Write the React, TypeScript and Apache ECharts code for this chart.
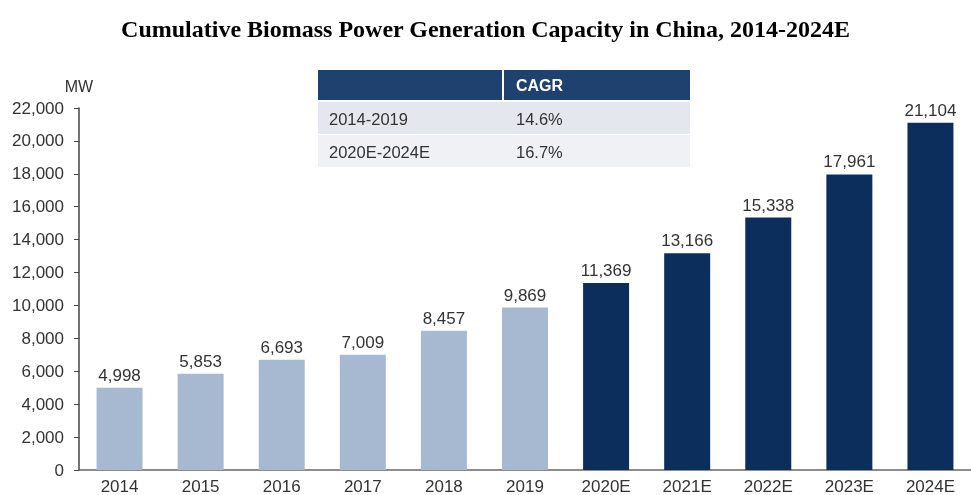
import React, { useEffect, useRef } from "react";
import * as echarts from "echarts";

const categories = ["2014", "2015", "2016", "2017", "2018", "2019", "2020E", "2021E", "2022E", "2023E", "2024E"];
const capacity = [4998, 5853, 6693, 7009, 8457, 9869, 11369, 13166, 15338, 17961, 21104];
const isEstimate = [false, false, false, false, false, false, true, true, true, true, true];
const tableHeader = ["", "CAGR"];
const tablePeriods = ["2014-2019", "2020E-2024E"];
const tableCagr = ["14.6%", "16.7%"];

const LIGHT = "#a7b9d1";
const DARK = "#0c2e5c";
const HEADER = "#1f4170";

export default function App() {
  const ref = useRef<HTMLDivElement>(null);
  useEffect(() => {
    if (!ref.current) return;
    const chart = echarts.init(ref.current, null, { renderer: "svg" });
    const font = "Arial, 'Liberation Sans', sans-serif";
    const tx = 318, tw = 372, col2 = 503;
    const graphic: any[] = [
      { type: "rect", shape: { x: tx, y: 70, width: tw, height: 30 }, style: { fill: HEADER } },
      { type: "line", shape: { x1: col2, y1: 70, x2: col2, y2: 100 }, style: { stroke: "#ffffff", lineWidth: 2 } },
      { type: "text", x: col2 + 13, y: 85, style: { text: tableHeader[1], fill: "#ffffff", font: `bold 16px ${font}`, verticalAlign: "middle" } },
    ];
    tablePeriods.forEach((p, i) => {
      const y = 102 + i * 33;
      graphic.push({ type: "rect", shape: { x: tx, y, width: tw, height: 32 }, style: { fill: i === 0 ? "#e4e8ee" : "#eff1f5" } });
      graphic.push({ type: "text", x: tx + 11, y: y + 17, style: { text: p, fill: "#333333", font: `16.5px ${font}`, verticalAlign: "middle" } });
      graphic.push({ type: "text", x: col2 + 13, y: y + 17, style: { text: tableCagr[i], fill: "#333333", font: `16.5px ${font}`, verticalAlign: "middle" } });
    });
    chart.setOption({
      animation: false,
      title: {
        text: "Cumulative Biomass Power Generation Capacity in China, 2014-2024E",
        left: "center",
        top: 12,
        textStyle: { fontFamily: "'Liberation Serif', 'Times New Roman', serif", fontWeight: "bold", fontSize: 24, color: "#000" },
      },
      graphic,
      grid: { left: 79, top: 108, width: 903, height: 363 },
      xAxis: {
        type: "category",
        data: categories,
        axisLine: { lineStyle: { color: "#666", width: 1.5 } },
        axisTick: { show: false },
        axisLabel: { color: "#333", fontSize: 17, fontFamily: font, margin: 8 },
      },
      yAxis: {
        type: "value",
        min: 0,
        max: 22000,
        interval: 2000,
        name: "MW",
        nameLocation: "end",
        nameGap: 14,
        nameTextStyle: { color: "#333", fontSize: 16, fontFamily: font, align: "center" },
        splitLine: { show: false },
        axisLine: { show: true, lineStyle: { color: "#444", width: 1.5 } },
        axisTick: { show: true, length: 5, lineStyle: { color: "#444" } },
        axisLabel: {
          color: "#333",
          fontSize: 17,
          fontFamily: font,
          margin: 15,
          formatter: (v: number) => v.toLocaleString("en-US"),
        },
      },
      series: [
        {
          type: "bar",
          barWidth: 46,
          data: capacity.map((v, i) => ({ value: v, itemStyle: { color: isEstimate[i] ? DARK : LIGHT } })),
          label: {
            show: true,
            position: "top",
            distance: 4,
            color: "#333",
            fontSize: 17,
            fontFamily: font,
            formatter: (p: any) => Number(p.value).toLocaleString("en-US"),
          },
        },
      ],
    });
    return () => chart.dispose();
  }, []);
  return <div ref={ref} style={{ position: "fixed", left: 0, top: 0, width: 971, height: 495 }} />;
}
